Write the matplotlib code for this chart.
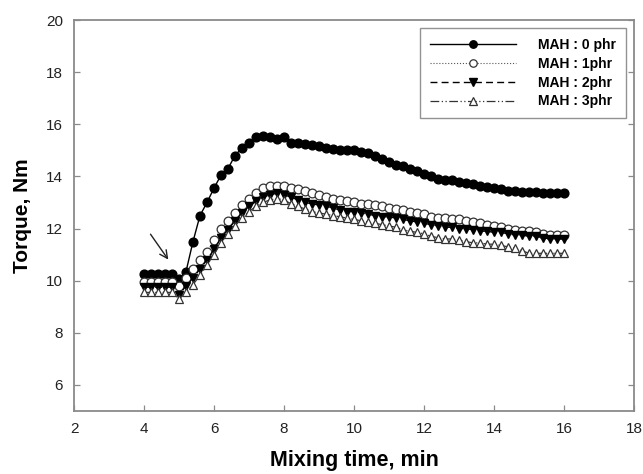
import numpy as np
import matplotlib
matplotlib.use('Agg')
import matplotlib.pyplot as plt

plt.rcParams['font.family'] = ['Liberation Sans', 'DejaVu Sans']

# tempo de mistura (min), amostras a cada 0.2 min
tempo = np.round(np.arange(4.0, 16.01, 0.2), 1)

mah_0 = [10.25, 10.25, 10.25, 10.25, 10.25, 10.05, 10.35, 11.5, 12.5, 13.0,
         13.55, 14.05, 14.3, 14.8, 15.1, 15.3, 15.5, 15.55, 15.5, 15.45,
         15.5, 15.3, 15.3, 15.25, 15.2, 15.15, 15.1, 15.05, 15.0, 15.0,
         15.0, 14.95, 14.9, 14.8, 14.65, 14.55, 14.45, 14.4, 14.3, 14.2,
         14.1, 14.0, 13.9, 13.85, 13.85, 13.8, 13.75, 13.7, 13.65, 13.6,
         13.55, 13.5, 13.45, 13.45, 13.4, 13.4, 13.4, 13.35, 13.35, 13.35,
         13.35]
mah_1 = [9.95, 9.95, 9.95, 9.95, 9.95, 9.8, 10.1, 10.45, 10.8, 11.1,
         11.55, 12.0, 12.3, 12.6, 12.9, 13.15, 13.35, 13.55, 13.65, 13.65,
         13.65, 13.55, 13.5, 13.45, 13.35, 13.3, 13.2, 13.15, 13.1, 13.05,
         13.0, 12.95, 12.95, 12.9, 12.85, 12.8, 12.75, 12.7, 12.65, 12.6,
         12.55, 12.45, 12.4, 12.4, 12.35, 12.35, 12.3, 12.25, 12.2, 12.15,
         12.1, 12.05, 12.0, 11.95, 11.9, 11.9, 11.85, 11.8, 11.75, 11.75,
         11.75]
mah_2 = [9.75, 9.75, 9.75, 9.75, 9.75, 9.45, 9.8, 10.1, 10.45, 10.8,
         11.2, 11.65, 11.95, 12.3, 12.6, 12.85, 13.05, 13.2, 13.3, 13.35,
         13.3, 13.2, 13.1, 13.0, 12.95, 12.9, 12.85, 12.8, 12.7, 12.65,
         12.65, 12.6, 12.55, 12.5, 12.45, 12.45, 12.4, 12.35, 12.3, 12.25,
         12.2, 12.15, 12.1, 12.05, 12.05, 12.0, 12.0, 11.95, 11.9, 11.9,
         11.85, 11.85, 11.8, 11.75, 11.75, 11.7, 11.7, 11.65, 11.6, 11.6,
         11.6]
mah_3 = [9.55, 9.55, 9.55, 9.55, 9.55, 9.3, 9.55, 9.85, 10.2, 10.6,
         11.0, 11.45, 11.8, 12.1, 12.4, 12.65, 12.85, 13.0, 13.1, 13.15,
         13.1, 12.95, 12.85, 12.75, 12.65, 12.6, 12.55, 12.5, 12.45, 12.4,
         12.35, 12.3, 12.25, 12.2, 12.15, 12.1, 12.05, 11.95, 11.9, 11.85,
         11.8, 11.7, 11.65, 11.6, 11.6, 11.55, 11.5, 11.45, 11.45, 11.4,
         11.4, 11.35, 11.3, 11.25, 11.15, 11.05, 11.05, 11.05, 11.05, 11.05,
         11.05]

legendas = ['MAH : 0 phr', 'MAH : 1phr', 'MAH : 2phr', 'MAH : 3phr']

fig = plt.figure(figsize=(6.43, 4.74), dpi=100)
ax = fig.add_axes([0.1151, 0.1329, 0.8709, 0.8249])

ms = 6.3
ax.plot(tempo, mah_0, color='black', linestyle='-', lw=1.0, marker='o',
        ms=ms, mfc='black', mec='black', label=legendas[0])
ax.plot(tempo, mah_1, color='#555555', linestyle=':', lw=0.8, marker='o',
        ms=ms, mfc='white', mec='#333333', mew=0.9, label=legendas[1])
ax.plot(tempo, mah_2, color='black', linestyle=(0, (5, 3)), lw=1.0, marker='v',
        ms=ms, mfc='black', mec='black', label=legendas[2])
ax.plot(tempo, mah_3, color='#333333', linestyle=(0, (7, 2, 1, 2, 1, 2)), lw=0.9,
        marker='^', ms=ms, mfc='white', mec='#333333', mew=0.9, label=legendas[3])

# seta indicando a adição
ax.annotate('', xy=(4.74, 10.72), xytext=(4.14, 11.87),
            arrowprops=dict(arrowstyle='->', color='#222222', lw=1.0,
                            mutation_scale=14))

ax.set_xlim(2, 18)
ax.set_ylim(5, 20)
ax.set_xticks(range(2, 19, 2))
ax.set_yticks(range(6, 21, 2))

for s in ax.spines.values():
    s.set_color('#8a8a8a')
    s.set_linewidth(1.3)
ax.tick_params(direction='in', length=4, width=0.9, color='#8a8a8a',
               labelsize=11, labelcolor='#222222', right=True, top=False,
               pad=8)

ax.set_xlabel('Mixing time, min', fontsize=15.5, fontweight='bold', labelpad=10)
ax.set_ylabel('Torque, Nm', fontsize=15, fontweight='bold', labelpad=10)

leg = ax.legend(loc='upper right', bbox_to_anchor=(0.993, 0.99),
                prop={'weight': 'bold', 'size': 10}, handlelength=6.2,
                frameon=True, fancybox=False, borderpad=0.7, labelspacing=0.35,
                handletextpad=1.6, borderaxespad=0.3, markerscale=0.85)
leg.get_frame().set_edgecolor('#777777')
leg.get_frame().set_linewidth(1.0)

fig.savefig('out.png', dpi=100)
